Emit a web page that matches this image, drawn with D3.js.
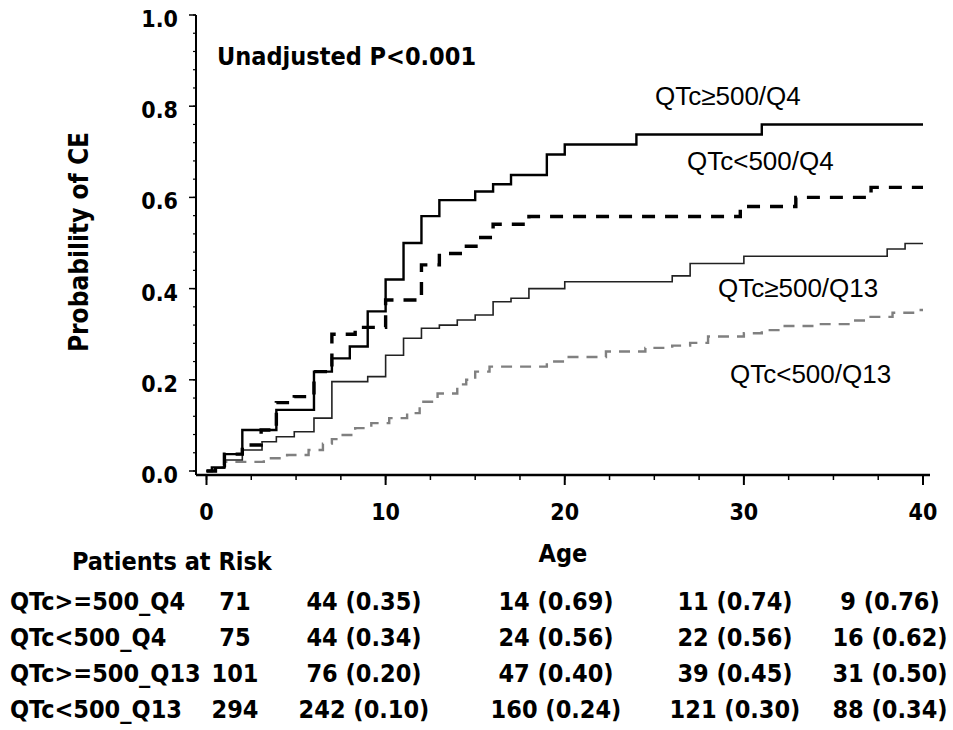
<!DOCTYPE html>
<html>
<head>
<meta charset="utf-8">
<script src="https://cdn.jsdelivr.net/npm/d3@7"></script>
<style>
  body { margin: 0; background: #fff; }
  svg { display: block; }
  .bold { font-family: "DejaVu Sans Condensed", "DejaVu Sans", sans-serif; font-stretch: condensed; font-weight: bold; fill: #000; }
  .lbl { font-family: "Liberation Sans", Arial, sans-serif; fill: #000; }
</style>
</head>
<body>
<div id="chart"></div>
<script>
// curve data (age, cumulative probability)
const ageA  = [0, 0.3, 1.0, 2.0, 3.9, 6.0, 7.0, 8.0, 9.0, 10.0, 11.0, 12.0, 13.0, 15.0, 16.0, 17.0, 19.0, 20.0, 24.0, 31.0, 40.0];
const probA = [0, 0.008, 0.037, 0.09, 0.134, 0.218, 0.247, 0.273, 0.35, 0.42, 0.5, 0.559, 0.594, 0.613, 0.629, 0.649, 0.694, 0.716, 0.738, 0.76, 0.76];

const ageB  = [0, 0.5, 1.0, 2.0, 3.05, 3.9, 4.9, 6.0, 7.0, 8.3, 10.0, 12.0, 13.0, 14.3, 15.2, 16.0, 18.0, 29.8, 32.9, 37.1, 40.0];
const probB = [0, 0.012, 0.037, 0.057, 0.09, 0.15, 0.163, 0.218, 0.30, 0.315, 0.375, 0.452, 0.477, 0.493, 0.512, 0.541, 0.558, 0.58, 0.60, 0.622, 0.622];

const ageC  = [0, 0.5, 1.0, 2.0, 3.1, 3.9, 4.9, 6.0, 7.0, 9.0, 10.0, 11.0, 12.0, 13.0, 14.0, 15.0, 16.0, 17.0, 18.0, 20.0, 26.0, 27.0, 30.0, 38.0, 39.0, 40.0];
const probC = [0, 0.006, 0.024, 0.046, 0.064, 0.075, 0.086, 0.116, 0.196, 0.207, 0.254, 0.291, 0.313, 0.32, 0.331, 0.342, 0.371, 0.379, 0.40, 0.415, 0.428, 0.455, 0.471, 0.487, 0.499, 0.499];

const ageD  = [0, 0.5, 1.0, 3.2, 4.5, 5.7, 6.5, 7.0, 7.5, 8.3, 9.2, 10.2, 11.2, 11.9, 12.9, 14.0, 14.5, 15.0, 15.8, 19.0, 20.0, 22.3, 24.5, 26.0, 27.0, 28.0, 30.0, 31.0, 32.0, 34.0, 36.0, 37.0, 38.3, 39.8, 40.0];
const probD = [0, 0.008, 0.02, 0.028, 0.035, 0.046, 0.06, 0.07, 0.079, 0.094, 0.105, 0.116, 0.127, 0.152, 0.17, 0.19, 0.2, 0.218, 0.229, 0.24, 0.25, 0.262, 0.27, 0.275, 0.281, 0.295, 0.302, 0.309, 0.318, 0.322, 0.33, 0.338, 0.347, 0.353, 0.353];

const curveNames = ['QTc≥500/Q4', 'QTc<500/Q4', 'QTc≥500/Q13', 'QTc<500/Q13'];

// axis ticks
const xTicks = [0, 10, 20, 30, 40];
const yTicks = [0, 0.2, 0.4, 0.6, 0.8, 1.0];

// patients at risk table
const riskGroups = ['QTc>=500_Q4', 'QTc<500_Q4', 'QTc>=500_Q13', 'QTc<500_Q13'];
const riskStart  = [71, 75, 101, 294];
const riskAt10   = ['44 (0.35)', '44 (0.34)', '76 (0.20)', '242 (0.10)'];
const riskAt20   = ['14 (0.69)', '24 (0.56)', '47 (0.40)', '160 (0.24)'];
const riskAt30   = ['11 (0.74)', '22 (0.56)', '39 (0.45)', '121 (0.30)'];
const riskAt40   = ['9 (0.76)', '16 (0.62)', '31 (0.50)', '88 (0.34)'];

const width = 953, height = 730;
const svg = d3.select('#chart').append('svg')
  .attr('width', width)
  .attr('height', height);

const x = d3.scaleLinear().domain([0, 40]).range([206.5, 923]);
const y = d3.scaleLinear().domain([0, 1]).range([471, 15]);

// axes lines
const axisX0 = 196, axisY0 = 475;
svg.append('line')
  .attr('x1', axisX0).attr('x2', axisX0)
  .attr('y1', y(1)).attr('y2', axisY0)
  .attr('stroke', '#000').attr('stroke-width', 2);
svg.append('line')
  .attr('x1', axisX0).attr('x2', 930)
  .attr('y1', axisY0).attr('y2', axisY0)
  .attr('stroke', '#000').attr('stroke-width', 2.5);

// y ticks: minor every 0.04
svg.selectAll('.ytick-minor')
  .data(d3.range(0, 1.0001, 0.04))
  .enter().append('line')
  .attr('x1', axisX0 - 3).attr('x2', axisX0)
  .attr('y1', d => y(d)).attr('y2', d => y(d))
  .attr('stroke', '#000').attr('stroke-width', 1.2);
svg.selectAll('.ytick')
  .data(yTicks)
  .enter().append('line')
  .attr('x1', axisX0 - 7).attr('x2', axisX0)
  .attr('y1', d => y(d)).attr('y2', d => y(d))
  .attr('stroke', '#000').attr('stroke-width', 1.5);
svg.selectAll('.ylabel')
  .data(yTicks)
  .enter().append('text')
  .attr('class', 'bold')
  .attr('x', 178)
  .attr('y', d => y(d) + 4)
  .attr('dy', '0.35em')
  .attr('text-anchor', 'end')
  .style('font-size', '23px')
  .text(d => d.toFixed(1));

// x ticks: minor every 2.5
svg.selectAll('.xtick-minor')
  .data(d3.range(0, 40.001, 2.5))
  .enter().append('line')
  .attr('x1', d => x(d)).attr('x2', d => x(d))
  .attr('y1', axisY0).attr('y2', axisY0 + 5)
  .attr('stroke', '#000').attr('stroke-width', 1.5);
svg.selectAll('.xtick')
  .data(xTicks)
  .enter().append('line')
  .attr('x1', d => x(d)).attr('x2', d => x(d))
  .attr('y1', axisY0).attr('y2', axisY0 + 10)
  .attr('stroke', '#000').attr('stroke-width', 2);
svg.selectAll('.xlabel')
  .data(xTicks)
  .enter().append('text')
  .attr('class', 'bold')
  .attr('x', d => x(d))
  .attr('y', 520)
  .attr('text-anchor', 'middle')
  .style('font-size', '23px')
  .text(d => d);

// axis titles
svg.append('text')
  .attr('class', 'bold')
  .attr('transform', 'translate(88,242) rotate(-90)')
  .attr('text-anchor', 'middle')
  .style('font-size', '26px')
  .text('Probability of CE');
svg.append('text')
  .attr('class', 'bold')
  .attr('x', 563).attr('y', 562)
  .attr('text-anchor', 'middle')
  .style('font-size', '25px')
  .text('Age');

svg.append('text')
  .attr('class', 'bold')
  .attr('x', 217).attr('y', 65)
  .style('font-size', '25px')
  .text('Unadjusted P<0.001');

// step curves
const step = d3.line()
  .x(d => x(d[0]))
  .y(d => y(d[1]))
  .curve(d3.curveStepAfter);

const curves = [
  { ages: ageD, probs: probD, stroke: '#808080', w: 2.4, dash: '11,8' },
  { ages: ageC, probs: probC, stroke: '#222', w: 1.6, dash: null },
  { ages: ageB, probs: probB, stroke: '#000', w: 3.4, dash: '13,10' },
  { ages: ageA, probs: probA, stroke: '#000', w: 2.4, dash: null },
];

svg.selectAll('.curve')
  .data(curves)
  .enter().append('path')
  .attr('class', 'curve')
  .attr('d', c => step(d3.zip(c.ages, c.probs)))
  .attr('fill', 'none')
  .attr('stroke', c => c.stroke)
  .attr('stroke-width', c => c.w)
  .attr('stroke-dasharray', c => c.dash);

// curve labels
const labelPos = [[655, 105], [687, 170], [718, 297], [730, 383]];
svg.selectAll('.clabel')
  .data(curveNames)
  .enter().append('text')
  .attr('class', 'lbl')
  .attr('x', (d, i) => labelPos[i][0])
  .attr('y', (d, i) => labelPos[i][1])
  .style('font-size', '26px')
  .text(d => d);

// patients at risk table
svg.append('text')
  .attr('class', 'bold')
  .attr('x', 72).attr('y', 570)
  .style('font-size', '25px')
  .text('Patients at Risk');

const rowY = [610, 646, 682, 718];
const colX = [235, 364, 556, 735, 890];
const rows = riskGroups.map((g, i) => [riskStart[i], riskAt10[i], riskAt20[i], riskAt30[i], riskAt40[i]]);

const tr = svg.selectAll('.riskrow')
  .data(rows)
  .enter().append('g')
  .attr('class', 'riskrow')
  .attr('transform', (d, i) => `translate(0,${rowY[i]})`);

tr.append('text')
  .attr('class', 'bold')
  .attr('x', 10)
  .style('font-size', '25px')
  .text((d, i) => riskGroups[i]);

tr.selectAll('.cell')
  .data(d => d)
  .enter().append('text')
  .attr('class', 'bold')
  .attr('x', (d, j) => colX[j])
  .attr('text-anchor', 'middle')
  .style('font-size', '25px')
  .text(d => d);
</script>
</body>
</html>
